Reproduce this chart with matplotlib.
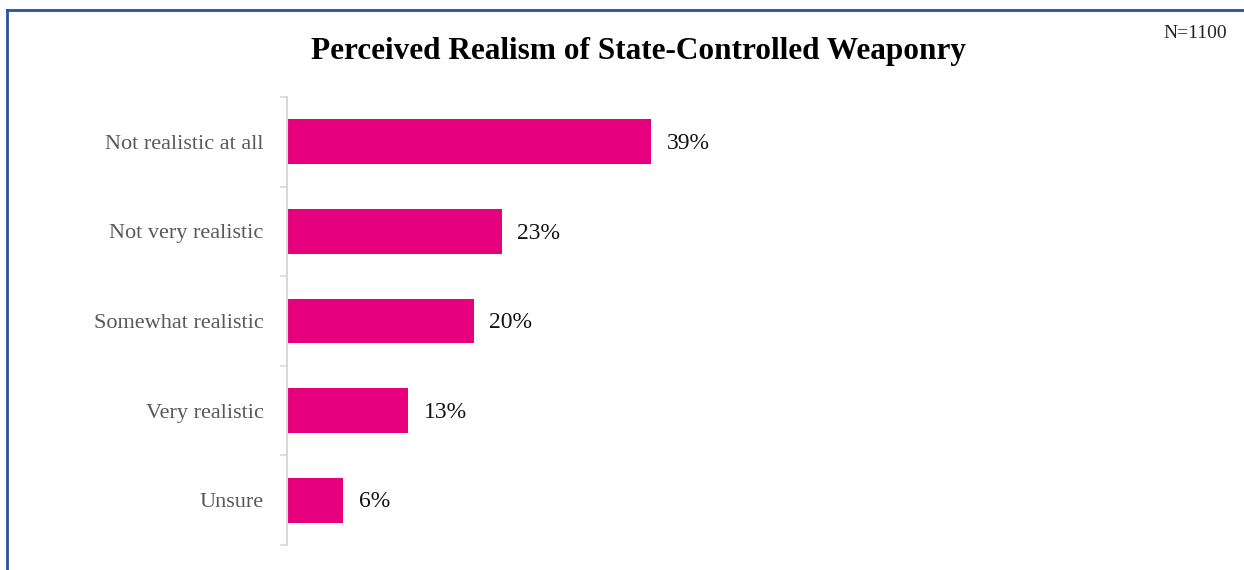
import numpy as np
import matplotlib.pyplot as plt
from matplotlib.lines import Line2D

categories = ["Not realistic at all", "Not very realistic", "Somewhat realistic",
              "Very realistic", "Unsure"]
shares = [39, 23, 20, 13, 6]

W, H = 1244, 570
fig = plt.figure(figsize=(W / 100, H / 100), dpi=100)
plt.rcParams['font.family'] = ['Liberation Serif', 'DejaVu Serif']

# axes placed in pixel terms: spine at x=287, 9.33 px per percentage point
ax = fig.add_axes([287 / W, 1 - 545 / H, 933 / W, 448 / H])
y = np.arange(len(categories))
ax.barh(y, shares, height=0.5, color="#e6007e")
ax.set_xlim(0, 100)
ax.set_ylim(len(categories) - 0.5, -0.5)

for yi, v in zip(y, shares):
    ax.text(v + 1.7, yi + 0.02, f"{v}%", va="center", ha="left", fontsize=17,
            color="#111111")

ax.set_yticks(y)
ax.set_yticklabels(categories, fontsize=16, color="#595959")
ax.tick_params(axis="y", which="major", length=0, pad=17)
ax.set_yticks(np.arange(-0.5, len(categories)), minor=True)
ax.tick_params(axis="y", which="minor", length=5, width=1.2, color="#d9d9d9")
ax.set_xticks([])
for side in ["top", "right", "bottom"]:
    ax.spines[side].set_visible(False)
ax.spines["left"].set_color("#d9d9d9")
ax.spines["left"].set_linewidth(1.5)

fig.text(638 / W, 1 - 51 / H, "Perceived Realism of State-Controlled Weaponry",
         ha="center", va="center", fontsize=22.5, fontweight="bold", color="black")
fig.text(1195 / W, 1 - 33 / H, "N=1100", ha="center", va="center", fontsize=14,
         color="#222222")

# frame lines on the left and top edge
fig.add_artist(Line2D([7 / W, 7 / W], [0, 1 - 10 / H], color="#2e4ea2", lw=2))
fig.add_artist(Line2D([7 / W, 1], [1 - 10 / H, 1 - 10 / H], color="#2e4ea2", lw=2))

fig.savefig("out.png", dpi=100, facecolor="white")
